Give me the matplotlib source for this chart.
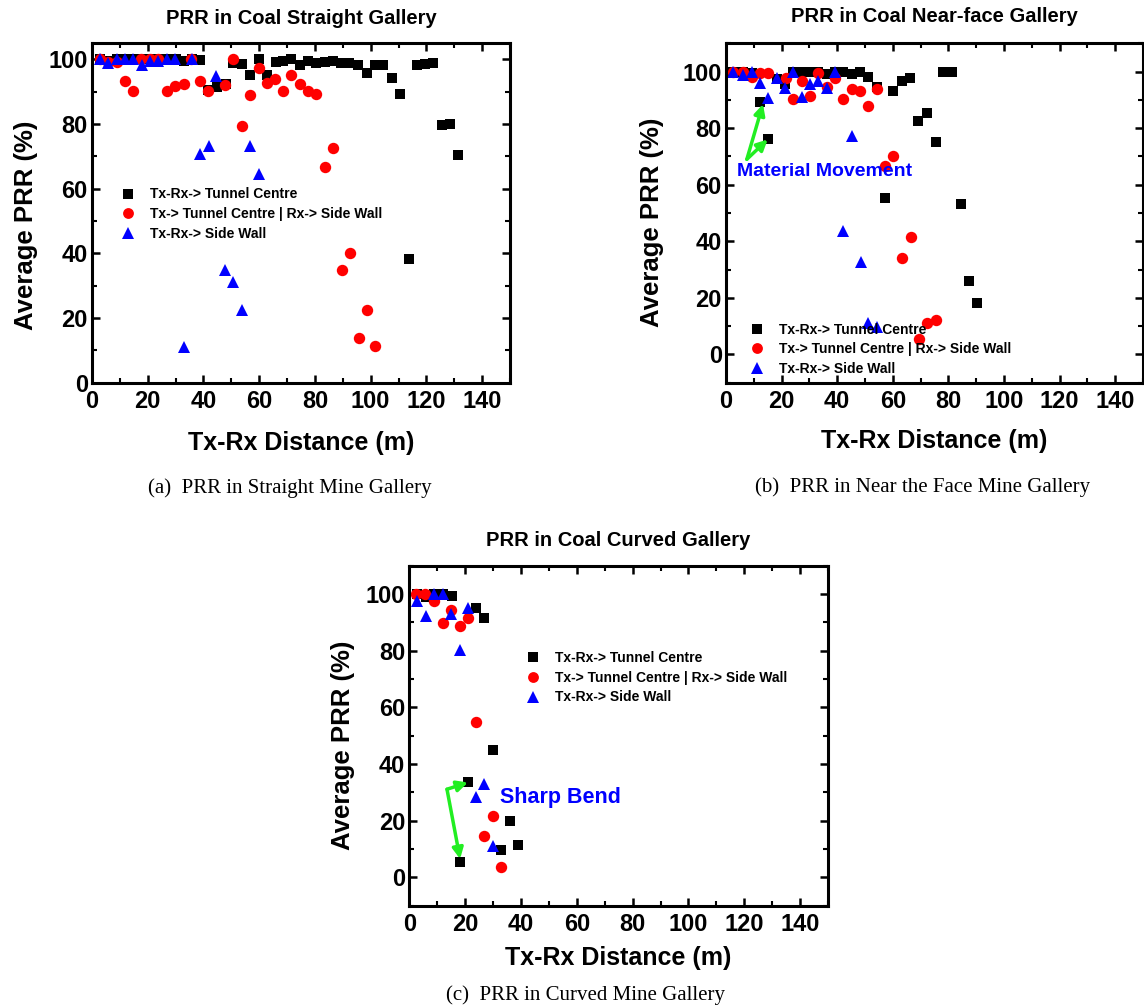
import matplotlib
matplotlib.use("Agg")
import matplotlib.pyplot as plt
from matplotlib.ticker import MultipleLocator

plt.rcParams['font.family'] = ['Liberation Sans', 'DejaVu Sans']
plt.rcParams['font.weight'] = 'bold'

# ---------------- data ----------------
labels = ["Tx-Rx-> Tunnel Centre", "Tx-> Tunnel Centre | Rx-> Side Wall", "Tx-Rx-> Side Wall"]

# (a) straight gallery
a_tc_x = [3, 6, 9, 12, 15, 18, 21, 24, 27, 30, 33, 36, 38.8, 41.5, 45, 48, 50.7, 53.7, 56.7, 59.8,
          62.7, 66, 68.6, 71.5, 74.5, 77.6, 80.5, 83.6, 86.4, 89.5, 92.4, 95.5, 98.6, 101.4, 104.3,
          107.6, 110.6, 113.6, 116.5, 119.5, 122.5, 125.5, 128.5, 131.4]
a_tc_y = [100, 99.5, 100, 100, 100, 100, 100, 100, 100, 100, 99.5, 100, 99.8, 90.6, 91.5, 92.3, 98.8,
          98.6, 95.2, 100, 95.2, 99, 99.5, 100, 98.3, 99.5, 98.8, 99.1, 99.3, 98.8, 98.8, 98.3, 95.7,
          98.3, 98.3, 94.2, 89.2, 38.3, 98.1, 98.6, 98.8, 79.8, 80.1, 70.4]
a_sw_x = [2.9, 5.8, 8.8, 11.8, 14.8, 17.7, 20.7, 23.7, 26.9, 29.9, 32.9, 35.6, 38.8, 41.8, 47.7,
          50.7, 53.7, 56.7, 59.8, 62.7, 65.7, 68.6, 71.5, 74.5, 77.6, 80.5, 83.6, 86.5, 89.8, 92.7,
          95.7, 98.7, 101.7]
a_sw_y = [100, 99, 99, 93.1, 90.3, 100, 100, 100, 90.3, 91.6, 92.4, 100, 93.1, 90.1, 92,
          100, 79.3, 88.8, 97.2, 92.6, 93.8, 90.3, 95.2, 92.4, 90.1, 89.3, 66.7, 72.6, 34.7, 40.1,
          13.9, 22.4, 11.3]
a_ww_x = [2.9, 5.8, 8.8, 11.8, 14.8, 17.8, 20.7, 23.7, 26.9, 29.9, 33, 35.8, 38.8, 41.9, 44.5,
          47.7, 50.7, 53.7, 56.7, 59.8]
a_ww_y = [100, 98.8, 100, 100, 100, 98.3, 99.5, 99.5, 100, 100, 10.9, 100, 70.8, 73.1, 94.7,
          34.7, 31.1, 22.4, 73.3, 64.4]

# (b) near-face gallery
b_tc_x = [2.6, 6, 9.2, 12.2, 15.2, 18.2, 21.2, 24.2, 27.2, 30.2, 33.2, 36.2, 39.2, 42.2, 45.2,
          48.2, 51.2, 54.2, 57.2, 60.2, 63.2, 66.2, 69.2, 72.3, 75.5, 78.2, 81.4, 84.5, 87.5, 90.4]
b_tc_y = [100, 100, 99.5, 89.1, 76.2, 97.3, 95.5, 100, 99.7, 99.7, 99.7, 99, 99.7, 99.7, 99.3,
          99.7, 98.2, 94.7, 55.2, 93, 96.5, 97.9, 82.6, 85.3, 75.1, 100, 100, 53.3, 25.8, 18.3]
b_sw_x = [2.6, 6, 9.2, 12.2, 15.2, 21.5, 24.2, 27.2, 30.2, 33.2, 36.2, 39.2, 42.2, 45.2, 48.2,
          51.2, 54.2, 57.2, 60.2, 63.2, 66.4, 69.4, 72.2, 75.4]
b_sw_y = [100, 100, 98.2, 99.6, 99.6, 97.6, 90.3, 96.6, 91.2, 99.6, 94.7, 97.9, 90.4, 93.9, 93,
          87.9, 93.8, 66.5, 70.3, 34, 41.5, 5.3, 11.2, 12]
b_ww_x = [2.6, 6, 9.2, 12.2, 15.2, 18.2, 21.2, 24.2, 27.2, 30.2, 33.2, 36.2, 39.2, 42.2, 45.2,
          48.4, 51.2, 54.2]
b_ww_y = [100, 98.8, 100, 95.9, 90.6, 97.6, 94.1, 100, 90.9, 95.7, 96.5, 94.1, 100, 43.7, 77.1,
          32.7, 11.2, 9.6]

# (c) curved gallery
c_tc_x = [2.9, 6, 8.9, 11.9, 15.2, 18, 20.9, 23.9, 26.9, 29.9, 33, 36, 39]
c_tc_y = [100, 99, 100, 100, 99.3, 5.5, 33.8, 94.9, 91.4, 45.1, 9.8, 20, 11.5]
c_sw_x = [2.4, 5.6, 8.9, 11.9, 15, 18, 20.9, 23.9, 26.9, 29.9, 33]
c_sw_y = [99.9, 100, 97.6, 89.8, 94.3, 88.8, 91.4, 54.8, 14.6, 21.6, 3.5]
c_ww_x = [2.9, 6, 8.9, 11.9, 14.9, 18, 20.9, 23.9, 26.9, 29.9]
c_ww_y = [97.6, 92.3, 100, 100, 93.1, 80.1, 94.9, 28.2, 32.9, 10.9]

titles = ["PRR in Coal Straight Gallery", "PRR in Coal Near-face Gallery", "PRR in Coal Curved Gallery"]
captions = ["(a)  PRR in Straight Mine Gallery", "(b)  PRR in Near the Face Mine Gallery",
            "(c)  PRR in Curved Mine Gallery"]

# ---------------- figure ----------------
W, H = 1144, 1007
fig = plt.figure(figsize=(W / 100, H / 100), dpi=100)

def fx(px):
    return px / W

def fy(py):
    return 1 - py / H

rects = [
    (92, 43, 510, 382.7),
    (726, 43.3, 1143, 382.7),
    (409.3, 565.7, 828, 905.7),
]
ylims = [(0, 105), (-10, 110), (-10, 110)]
series = [
    [(a_tc_x, a_tc_y), (a_sw_x, a_sw_y), (a_ww_x, a_ww_y)],
    [(b_tc_x, b_tc_y), (b_sw_x, b_sw_y), (b_ww_x, b_ww_y)],
    [(c_tc_x, c_tc_y), (c_sw_x, c_sw_y), (c_ww_x, c_ww_y)],
]
styles = [dict(marker='s', color='black', ms=7.3),
          dict(marker='o', color='#ff0000', ms=8.2),
          dict(marker='^', color='#0000ff', ms=8.8)]
legend_anchor = [(128.3, 196.5), (757.3, 331.5), (533, 660)]
ylabel_x = [26, 652, 343]
ylabel_yc = [225, 222, 745]
xlabel_y = [443, 441, 958]
title_y = [18, 17, 541]
caption_pos = [(290, 488), (923, 487), (585, 995)]

axes = []
for i, (l, t, r, b) in enumerate(rects):
    ax = fig.add_axes([fx(l), fy(b), (r - l) / W, (b - t) / H])
    axes.append(ax)
    handles = []
    for (xs, ys), st in zip(series[i], styles):
        h, = ax.plot(xs, ys, ls='none', marker=st['marker'], color=st['color'],
                     ms=st['ms'], mec=st['color'], mew=0)
        handles.append(h)
    ax.set_xlim(0, 150)
    ax.set_ylim(*ylims[i])
    ax.xaxis.set_major_locator(MultipleLocator(20))
    ax.xaxis.set_minor_locator(MultipleLocator(10))
    ax.yaxis.set_major_locator(MultipleLocator(20))
    ax.yaxis.set_minor_locator(MultipleLocator(10))
    if ylims[i][0] < 0:
        ax.set_yticks([0, 20, 40, 60, 80, 100])
    ax.tick_params(which='both', direction='in', top=True, right=True)
    ax.tick_params(which='major', length=6, width=1.8, labelsize=17, pad=5)
    ax.tick_params(which='minor', length=3.5, width=1.5)
    ax.tick_params(axis='y', which='major', pad=3)
    for lab in ax.get_xticklabels() + ax.get_yticklabels():
        lab.set_fontweight('bold')
    for sp in ax.spines.values():
        sp.set_linewidth(2.2)
    ax.set_xlabel("Tx-Rx Distance (m)", fontsize=18, fontweight='bold')
    ax.set_ylabel("Average PRR (%)", fontsize=18.5, fontweight='bold')
    ax.yaxis.set_label_coords((ylabel_x[i] - l) / (r - l), (b - ylabel_yc[i]) / (b - t))
    ax.xaxis.set_label_coords(0.5, -(xlabel_y[i] - b) / (b - t))
    ax.xaxis.label.set_verticalalignment('center')
    ax.yaxis.label.set_verticalalignment('center')
    fig.text(fx((l + r) / 2), fy(title_y[i]), titles[i], ha='center', va='center',
             fontsize=14.5, fontweight='bold')
    cx, cy = caption_pos[i]
    fig.text(fx(cx), fy(cy), captions[i], ha='center', va='center', fontsize=15,
             fontweight='normal', family=['Liberation Serif', 'DejaVu Serif'])
    mx, my = legend_anchor[i]
    ax.legend(handles, labels, loc='upper left', frameon=False,
              bbox_to_anchor=((mx - 7 - l) / (r - l), (b - (my - 9)) / (b - t)),
              borderaxespad=0, borderpad=0, handlelength=1.0, handletextpad=1.1,
              labelspacing=0.41, prop=dict(weight='bold', size=10),
              markerscale=0.95)

# annotations
green = '#22ee22'
axb = axes[1]
for tgt in [(13.3, 88.5), (15.0, 76.0)]:
    axb.annotate("", xy=tgt, xytext=(7.5, 69),
                 arrowprops=dict(arrowstyle='-|>', color=green, lw=2.5, mutation_scale=16,
                                 shrinkA=0, shrinkB=0))
axb.text(4.1, 64.8, "Material Movement", color='#0000ff', fontsize=14, fontweight='bold',
         ha='left', va='center')

axc = axes[2]
for tgt in [(21.0, 33.5), (18.2, 6.5)]:
    axc.annotate("", xy=tgt, xytext=(13.5, 31.1),
                 arrowprops=dict(arrowstyle='-|>', color=green, lw=2.5, mutation_scale=16,
                                 shrinkA=0, shrinkB=0))
axc.text(32.6, 28.3, "Sharp Bend", color='#0000ff', fontsize=15.5, fontweight='bold',
         ha='left', va='center')

fig.savefig("out.png", dpi=100)
